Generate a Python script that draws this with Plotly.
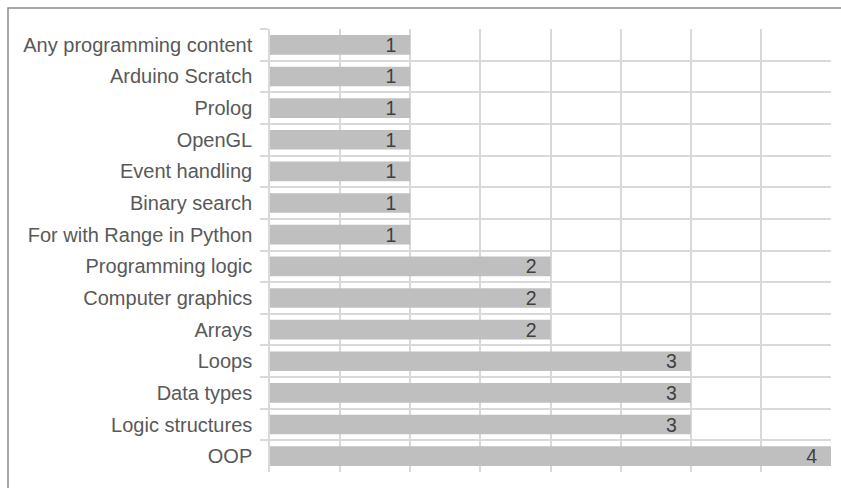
import plotly.graph_objects as go

categories = [
    "Any programming content", "Arduino Scratch", "Prolog", "OpenGL",
    "Event handling", "Binary search", "For with Range in Python",
    "Programming logic", "Computer graphics", "Arrays",
    "Loops", "Data types", "Logic structures", "OOP",
]
values = [1, 1, 1, 1, 1, 1, 1, 2, 2, 2, 3, 3, 3, 4]

L, R, T, B = 270, 10, 29, 16
W, H = 841, 488
pw, ph = W - L - R, H - T - B

fig = go.Figure()
fig.add_trace(go.Bar(
    x=values, y=categories, orientation="h",
    marker=dict(color="#bfbfbf", line=dict(width=0)),
    text=[f"{v}\u00a0\u00a0" for v in values],
    textposition="inside", insidetextanchor="end",
    constraintext="none", textangle=0,
    textfont=dict(family="Liberation Sans, Arial", size=19.5, color="#404040"),
    hoverinfo="skip",
))

fig.update_layout(
    width=W, height=H,
    margin=dict(l=L, r=R, t=T, b=B, pad=0),
    paper_bgcolor="white", plot_bgcolor="white",
    bargap=0.38, showlegend=False,
    font=dict(family="Liberation Sans, Arial", size=20, color="#595959"),
    xaxis=dict(range=[0, 4], dtick=0.5, showticklabels=False,
               showgrid=True, gridcolor="#d9d9d9", gridwidth=1.5,
               zeroline=False, showline=False, ticks=""),
    yaxis=dict(autorange="reversed", tickson="boundaries",
               showgrid=True, gridcolor="#d9d9d9", gridwidth=1.5,
               showline=True, linecolor="#d9d9d9", linewidth=1.5,
               ticks="outside", ticklen=8, tickcolor="#d9d9d9", tickwidth=1.5,
               ticklabelstandoff=12,
               tickfont=dict(size=20, color="#595959")),
    shapes=[dict(type="rect", xref="paper", yref="paper",
                 x0=(8 - L) / pw, x1=(W + 5 - L) / pw,
                 y0=(H - B - (H + 5)) / ph, y1=(H - B - 8) / ph,
                 line=dict(color="#8c8c8c", width=1.5), layer="below")],
)

fig.write_html("out.html")
